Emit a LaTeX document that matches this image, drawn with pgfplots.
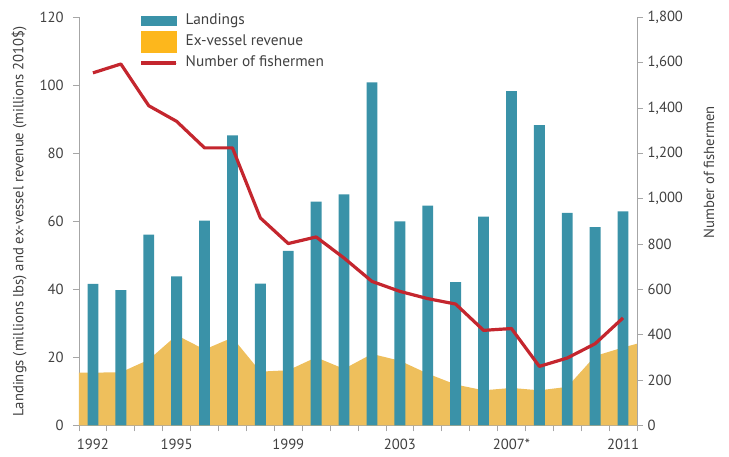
\documentclass[border=0pt]{standalone}
\usepackage{fontspec}
\setmainfont{PT Sans}
\usepackage{pgfplots}
\pgfplotsset{compat=1.18}
\definecolor{teal1}{HTML}{3A92A8}
\definecolor{gold1}{HTML}{EEBF5C}
\definecolor{goldleg}{HTML}{FDB71C}
\definecolor{red1}{HTML}{C4262E}
\definecolor{axgray}{HTML}{A6A6A6}
\definecolor{txt}{HTML}{404040}

\begin{document}
\begin{tikzpicture}
\pgfplotsset{
  every axis/.append style={
    width=418.5pt, height=306pt, scale only axis,
    xmin=-0.5, xmax=19.5,
    axis line style={axgray, line width=0.6pt},
    tick style={axgray, line width=0.6pt},
    major tick length=4.5pt,
    tick align=outside,
    tick label style={font=\fontsize{11}{13}\selectfont, text=txt},
    label style={font=\fontsize{11}{13}\selectfont, text=txt},
    /pgf/number format/assume math mode=true,
  }
}
\begin{axis}[
  axis x line*=bottom, axis y line*=left,
  ymin=0, ymax=120, ytick={0,20,...,120},
  yticklabel style={xshift=-3.5pt},
  xtick={-0.5,0.5,...,19.5}, xticklabels={},
  extra x ticks={0,3,7,11,15,19},
  extra x tick labels={1992,1995,1999,2003,2007*,2011},
  extra x tick style={major tick length=0pt, xticklabel style={yshift=-6.5pt}},
  ylabel={Landings (millions lbs) and ex-vessel revenue (millions 2010\$)},
  ylabel style={at={(rel axis cs:0,0.5)}, anchor=center, yshift=45pt},
  legend style={at={(rel axis cs:0.111,1.012)}, anchor=north west,
    draw=none, fill=none, inner sep=0pt, row sep=3pt,
    font=\fontsize{11.5}{13}\selectfont, text=txt,
    nodes={text height=8.2pt, text depth=2.5pt, inner sep=1pt},
    /tikz/every odd column/.append style={column sep=6pt}},
  legend cell align=left,
]
% ex-vessel revenue (area, behind the bars)
\addplot[fill=gold1, draw=none, forget plot] coordinates {
  (-0.5,15.5) (0,15.5) (1,15.6) (2,19.3) (3,26.5) (4,22.3) (5,25.8) (6,15.8)
  (7,16.2) (8,20.0) (9,16.6) (10,21.0) (11,19.0) (12,15.2) (13,12.0) (14,10.3)
  (15,11.0) (16,10.3) (17,11.3) (18,20.4) (19,22.9) (19.5,24.0)
} \closedcycle;
% landings
\addplot[ybar, bar width=0.39, bar shift=0pt, fill=teal1, draw=none, forget plot] coordinates {
  (0,41.6) (1,39.8) (2,56.1) (3,43.8) (4,60.2) (5,85.3) (6,41.7) (7,51.3)
  (8,65.8) (9,67.9) (10,100.9) (11,60.0) (12,64.6) (13,42.1) (14,61.4)
  (15,98.3) (16,88.3) (17,62.5) (18,58.3) (19,62.9)
};
\addlegendimage{legend image code/.code={
  \path (0pt,0pt) rectangle (26pt,0pt);
  \fill[teal1,overlay] (0pt,-3.4pt) rectangle (26pt,3.4pt);}}
\addlegendentry{Landings}
\addlegendimage{legend image code/.code={
  \path (0pt,0pt) rectangle (26pt,0pt);
  \fill[goldleg,overlay] (0pt,-7.9pt) rectangle (26pt,7.9pt);}}
\addlegendentry{Ex-vessel revenue}
\addlegendimage{legend image code/.code={
  \path (0pt,0pt) rectangle (26pt,0pt);
  \draw[red1,line width=2.4pt,overlay] (0pt,0pt) -- (26pt,0pt);}}
\addlegendentry{Number of fishermen}
\coordinate (bl) at (rel axis cs:0,0);
\coordinate (tr) at (rel axis cs:1,1);
\end{axis}
\begin{axis}[
  axis x line=none, axis y line*=right,
  ymin=0, ymax=1800, ytick={0,200,...,1800},
  /pgf/number format/1000 sep={,},
  ylabel={Number of fishermen},
  ylabel style={at={(rel axis cs:1,0.62)}, anchor=center, yshift=-54pt},
]
\addplot[red1, line width=2.4pt, line join=round] coordinates {
  (0,1555) (1,1594) (2,1410) (3,1341) (4,1224) (5,1224) (6,915) (7,802)
  (8,831) (9,738) (10,635) (11,591) (12,559) (13,535) (14,419) (15,427)
  (16,260) (17,297) (18,360) (19,474)
};
\end{axis}
\pgfresetboundingbox
\path ([shift={(-59.25pt,-23.5pt)}]bl) rectangle ([shift={(69pt,13pt)}]tr);
\end{tikzpicture}
\end{document}
